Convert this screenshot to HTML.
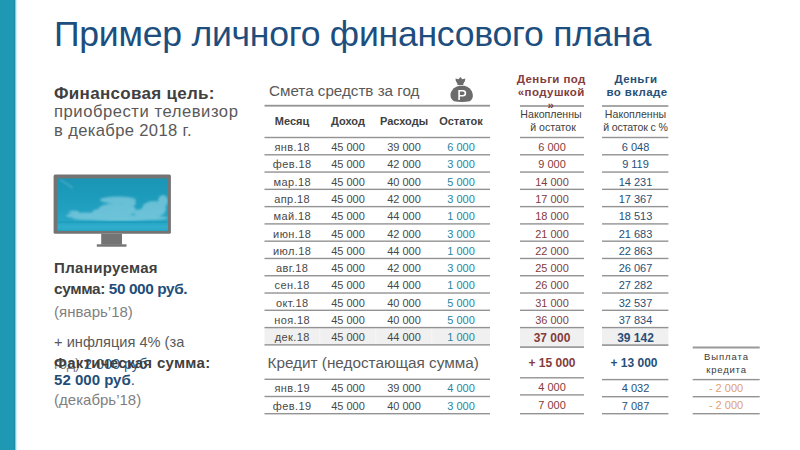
<!DOCTYPE html>
<html><head><meta charset="utf-8"><style>
html,body{margin:0;padding:0;background:#fff;}
body{width:800px;height:450px;position:relative;overflow:hidden;font-family:"Liberation Sans", sans-serif;}
.t{position:absolute;white-space:nowrap;}
.r{position:absolute;}
</style></head><body>
<svg style="position:absolute;left:0;top:0" width="800" height="450"><rect x="264.5" y="104.80" width="225.5" height="1.8" fill="#939393"/><rect x="264.5" y="327.58" width="225.5" height="17.28" fill="#f0f0f0"/><rect x="520" y="328.20" width="64" height="18.9" fill="#f0f0f0"/><rect x="319.5" y="328.28" width="0.8" height="15.88" fill="#f9f9f9"/><rect x="375.5" y="328.28" width="0.8" height="15.88" fill="#f9f9f9"/><rect x="431.5" y="328.28" width="0.8" height="15.88" fill="#f9f9f9"/><rect x="602" y="328.20" width="66.4" height="17" fill="#f0f0f0"/><rect x="264.5" y="136.80" width="225.5" height="1.4" fill="#939393"/><rect x="264.5" y="154.08" width="225.5" height="1.4" fill="#939393"/><rect x="264.5" y="171.36" width="225.5" height="1.4" fill="#939393"/><rect x="264.5" y="188.64" width="225.5" height="1.4" fill="#939393"/><rect x="264.5" y="205.92" width="225.5" height="1.4" fill="#939393"/><rect x="264.5" y="223.20" width="225.5" height="1.4" fill="#939393"/><rect x="264.5" y="240.48" width="225.5" height="1.4" fill="#939393"/><rect x="264.5" y="257.76" width="225.5" height="1.4" fill="#939393"/><rect x="264.5" y="275.04" width="225.5" height="1.4" fill="#939393"/><rect x="264.5" y="292.32" width="225.5" height="1.4" fill="#939393"/><rect x="264.5" y="309.60" width="225.5" height="1.4" fill="#939393"/><rect x="264.5" y="326.88" width="225.5" height="1.4" fill="#939393"/><rect x="264.5" y="344.16" width="225.5" height="1.4" fill="#939393"/><rect x="520" y="136.80" width="64" height="1.4" fill="#939393"/><rect x="602" y="136.80" width="66.4" height="1.4" fill="#939393"/><rect x="520" y="154.08" width="64" height="1.4" fill="#939393"/><rect x="602" y="154.08" width="66.4" height="1.4" fill="#939393"/><rect x="520" y="171.36" width="64" height="1.4" fill="#939393"/><rect x="602" y="171.36" width="66.4" height="1.4" fill="#939393"/><rect x="520" y="188.64" width="64" height="1.4" fill="#939393"/><rect x="602" y="188.64" width="66.4" height="1.4" fill="#939393"/><rect x="520" y="205.92" width="64" height="1.4" fill="#939393"/><rect x="602" y="205.92" width="66.4" height="1.4" fill="#939393"/><rect x="520" y="223.20" width="64" height="1.4" fill="#939393"/><rect x="602" y="223.20" width="66.4" height="1.4" fill="#939393"/><rect x="520" y="240.48" width="64" height="1.4" fill="#939393"/><rect x="602" y="240.48" width="66.4" height="1.4" fill="#939393"/><rect x="520" y="257.76" width="64" height="1.4" fill="#939393"/><rect x="602" y="257.76" width="66.4" height="1.4" fill="#939393"/><rect x="520" y="275.04" width="64" height="1.4" fill="#939393"/><rect x="602" y="275.04" width="66.4" height="1.4" fill="#939393"/><rect x="520" y="292.32" width="64" height="1.4" fill="#939393"/><rect x="602" y="292.32" width="66.4" height="1.4" fill="#939393"/><rect x="520" y="309.60" width="64" height="1.4" fill="#939393"/><rect x="602" y="309.60" width="66.4" height="1.4" fill="#939393"/><rect x="520" y="326.88" width="64" height="1.4" fill="#939393"/><rect x="602" y="326.88" width="66.4" height="1.4" fill="#939393"/><rect x="520" y="346.30" width="64" height="1.6" fill="#939393"/><rect x="602" y="344.30" width="66.4" height="1.6" fill="#939393"/><rect x="520" y="105.20" width="64" height="1.6" fill="#939393"/><rect x="602" y="105.20" width="66.4" height="1.6" fill="#939393"/><rect x="264.5" y="378.60" width="225.5" height="1.4" fill="#939393"/><rect x="264.5" y="395.80" width="225.5" height="1.4" fill="#939393"/><rect x="264.5" y="413.00" width="225.5" height="1.4" fill="#939393"/><rect x="520" y="377.10" width="64" height="1.4" fill="#939393"/><rect x="520" y="394.20" width="64" height="1.4" fill="#939393"/><rect x="520" y="413.00" width="64" height="1.4" fill="#939393"/><rect x="602" y="378.90" width="66.4" height="1.4" fill="#939393"/><rect x="692.7" y="378.90" width="67" height="1.4" fill="#939393"/><rect x="602" y="396.00" width="66.4" height="1.4" fill="#939393"/><rect x="692.7" y="396.00" width="67" height="1.4" fill="#939393"/><rect x="602" y="413.00" width="66.4" height="1.4" fill="#939393"/><rect x="692.7" y="413.00" width="67" height="1.4" fill="#939393"/><rect x="692.7" y="346.50" width="67" height="2" fill="#999"/></svg>
<div class="r" style="left:0px;top:0px;width:15px;height:450px;background:#1F98B4;"></div>
<div class="r" style="left:14px;top:0px;width:1px;height:450px;background:#1d8ba4;"></div>
<div class="r" style="left:15px;top:0px;width:1px;height:450px;background:#86cadb;"></div>
<div class="r" style="left:16px;top:0px;width:1px;height:450px;background:#d2f1f7;"></div>
<div class="r" style="left:17px;top:0px;width:1px;height:450px;background:#f4fcfe;"></div>
<div class="t" style="left:54.00px;top:17.26px;font-size:35.6px;line-height:35.6px;color:#1d4e7e;letter-spacing:-0.25px;">Пример личного финансового плана</div>
<div class="t" style="left:54.00px;top:84.81px;font-size:17px;line-height:17px;color:#404040;font-weight:bold;letter-spacing:0.3px;">Финансовая цель:</div>
<div class="t" style="left:54.00px;top:104.45px;font-size:16.6px;line-height:16.6px;color:#595959;letter-spacing:0.55px;">приобрести телевизор</div>
<div class="t" style="left:54.00px;top:123.35px;font-size:16.6px;line-height:16.6px;color:#595959;letter-spacing:0.35px;">в декабре 2018 г.</div>
<svg class="r" style="left:50px;top:170px" width="125" height="80" viewBox="0 0 125 80">
<defs>
<linearGradient id="sky" x1="0" y1="0" x2="0" y2="1">
<stop offset="0" stop-color="#1a95b5"/><stop offset="0.45" stop-color="#1e9dbd"/><stop offset="0.85" stop-color="#28a6c5"/><stop offset="1" stop-color="#28a6c5"/>
</linearGradient>
<filter id="bl" x="-20%" y="-50%" width="140%" height="200%"><feGaussianBlur stdDeviation="1.3"/></filter>
<clipPath id="scr"><rect x="7.6" y="8.4" width="110.3" height="52.4"/></clipPath>
</defs>
<rect x="3.6" y="4.6" width="117.3" height="59.1" rx="1.5" fill="#747474"/>
<rect x="7.6" y="8.4" width="110.3" height="52.4" fill="url(#sky)"/>
<g clip-path="url(#scr)">
<g fill="#b4e2ee" opacity="0.5" filter="url(#bl)">
<ellipse cx="70" cy="48" rx="48" ry="3"/>
<ellipse cx="36" cy="45.5" rx="20" ry="3"/>
<ellipse cx="24" cy="42" rx="5" ry="1.5"/>
<ellipse cx="50" cy="42" rx="8" ry="3"/>
<ellipse cx="67" cy="40" rx="19" ry="7"/>
<ellipse cx="68" cy="30" rx="18" ry="3.5"/>
<ellipse cx="80" cy="33" rx="6" ry="4"/>
<ellipse cx="92" cy="43" rx="8" ry="4"/>
<ellipse cx="104" cy="39" rx="12" ry="8"/>
<ellipse cx="113" cy="31" rx="5" ry="6"/>
</g>
<path d="M10 9.5 L23 18" stroke="#6cc0d6" stroke-width="2" opacity="0.45" filter="url(#bl)"/>
<rect x="7" y="51.5" width="112" height="9.5" fill="#27a7c6"/>
<rect x="7" y="51.5" width="112" height="1.2" fill="#1e9aba"/>
<rect x="7" y="55" width="112" height="4" fill="#3bb4d0" opacity="0.5" filter="url(#bl)"/>
</g>
<rect x="51.2" y="63.7" width="20.8" height="11" fill="#747474"/>
<rect x="46.8" y="74.3" width="29.7" height="2.4" fill="#747474"/>
</svg>
<div class="t" style="left:54.10px;top:259.50px;font-size:15px;line-height:15px;color:#404040;font-weight:bold;letter-spacing:0.33px;">Планируемая</div>
<div class="t" style="left:54.10px;top:280.56px;font-size:15.4px;line-height:15.4px;color:#404040;font-weight:bold;letter-spacing:-0.4px;">сумма: <span style="color:#1F4E79">50 000 руб.</span></div>
<div class="t" style="left:54.10px;top:303.80px;font-size:15px;line-height:15px;color:#7F7F7F;">(январь’18)</div>
<div class="t" style="left:54.10px;top:334.84px;font-size:14.6px;line-height:14.6px;color:#595959;">+ инфляция 4% (за</div>
<div class="t" style="left:54.10px;top:357.11px;font-size:14.4px;line-height:14.4px;color:#7F7F7F;">год) <span style="color:#2c5c8c">2 000 руб</span></div>
<div class="t" style="left:54.10px;top:355.10px;font-size:15px;line-height:15px;color:#404040;font-weight:bold;letter-spacing:0.3px;">Фактическая сумма:</div>
<div class="t" style="left:54.10px;top:372.30px;font-size:15px;line-height:15px;color:#1F4E79;font-weight:bold;">52 000 руб<span style="font-weight:normal">.</span></div>
<div class="t" style="left:54.10px;top:391.50px;font-size:15px;line-height:15px;color:#7F7F7F;">(декабрь’18)</div>
<div class="t" style="left:269.00px;top:83.03px;font-size:15.2px;line-height:15.2px;color:#595959;">Смета средств за год</div>
<svg class="r" style="left:449px;top:76px" width="26" height="27" viewBox="0 0 26 27">
<path fill="#6b6b6b" d="M6.5 2.6 L9.5 3.3 L11.4 0.9 L13.3 3.3 L16.3 2.6 Q16.4 5.2 14.9 6.8 Q14.1 7.6 14.3 8.9 L8.5 8.9 Q8.7 7.6 7.9 6.8 Q6.4 5.2 6.5 2.6 Z"/>
<path fill="#6b6b6b" d="M10.3 9.8 L15.3 9.8 Q21.5 11 23.6 17.5 Q24.8 22.5 20.8 25.2 Q13 26.6 5 25.2 Q0.8 22.5 1.6 17.5 Q3.8 11 10.3 9.8 Z"/>
<path fill="none" stroke="#fff" stroke-width="1.6" d="M10.1 24 L10.1 14.8 L13.8 14.8 Q16.4 14.8 16.4 17.3 Q16.4 19.8 13.8 19.8 L10.1 19.8"/>
</svg>
<div class="t" style="left:262.00px;width:60px;text-align:center;top:115.99px;font-size:11px;line-height:11px;color:#404040;font-weight:bold;">Месяц</div>
<div class="t" style="left:318.00px;width:60px;text-align:center;top:115.99px;font-size:11px;line-height:11px;color:#404040;font-weight:bold;">Доход</div>
<div class="t" style="left:374.00px;width:60px;text-align:center;top:115.99px;font-size:11px;line-height:11px;color:#404040;font-weight:bold;">Расходы</div>
<div class="t" style="left:431.00px;width:60px;text-align:center;top:115.99px;font-size:11px;line-height:11px;color:#404040;font-weight:bold;">Остаток</div>
<div class="t" style="left:264.20px;width:56px;text-align:center;top:142.19px;font-size:11px;line-height:11px;color:#484848;letter-spacing:0.4px;">янв.18</div>
<div class="t" style="left:320.00px;width:56px;text-align:center;top:142.19px;font-size:11px;line-height:11px;color:#484848;">45 000</div>
<div class="t" style="left:376.00px;width:56px;text-align:center;top:142.19px;font-size:11px;line-height:11px;color:#484848;">39 000</div>
<div class="t" style="left:433.00px;width:56px;text-align:center;top:142.19px;font-size:11px;line-height:11px;color:#28869f;">6 000</div>
<div class="t" style="left:520.00px;width:64px;text-align:center;top:142.19px;font-size:11px;line-height:11px;color:#843c3c;">6 000</div>
<div class="t" style="left:602.50px;width:66px;text-align:center;top:142.19px;font-size:11px;line-height:11px;color:#284f78;">6 048</div>
<div class="t" style="left:264.20px;width:56px;text-align:center;top:159.47px;font-size:11px;line-height:11px;color:#484848;letter-spacing:0.4px;">фев.18</div>
<div class="t" style="left:320.00px;width:56px;text-align:center;top:159.47px;font-size:11px;line-height:11px;color:#484848;">45 000</div>
<div class="t" style="left:376.00px;width:56px;text-align:center;top:159.47px;font-size:11px;line-height:11px;color:#484848;">42 000</div>
<div class="t" style="left:433.00px;width:56px;text-align:center;top:159.47px;font-size:11px;line-height:11px;color:#28869f;">3 000</div>
<div class="t" style="left:520.00px;width:64px;text-align:center;top:159.47px;font-size:11px;line-height:11px;color:#843c3c;">9 000</div>
<div class="t" style="left:602.50px;width:66px;text-align:center;top:159.47px;font-size:11px;line-height:11px;color:#284f78;">9 119</div>
<div class="t" style="left:264.20px;width:56px;text-align:center;top:176.75px;font-size:11px;line-height:11px;color:#484848;letter-spacing:0.4px;">мар.18</div>
<div class="t" style="left:320.00px;width:56px;text-align:center;top:176.75px;font-size:11px;line-height:11px;color:#484848;">45 000</div>
<div class="t" style="left:376.00px;width:56px;text-align:center;top:176.75px;font-size:11px;line-height:11px;color:#484848;">40 000</div>
<div class="t" style="left:433.00px;width:56px;text-align:center;top:176.75px;font-size:11px;line-height:11px;color:#28869f;">5 000</div>
<div class="t" style="left:520.00px;width:64px;text-align:center;top:176.75px;font-size:11px;line-height:11px;color:#843c3c;">14 000</div>
<div class="t" style="left:602.50px;width:66px;text-align:center;top:176.75px;font-size:11px;line-height:11px;color:#284f78;">14 231</div>
<div class="t" style="left:264.20px;width:56px;text-align:center;top:194.03px;font-size:11px;line-height:11px;color:#484848;letter-spacing:0.4px;">апр.18</div>
<div class="t" style="left:320.00px;width:56px;text-align:center;top:194.03px;font-size:11px;line-height:11px;color:#484848;">45 000</div>
<div class="t" style="left:376.00px;width:56px;text-align:center;top:194.03px;font-size:11px;line-height:11px;color:#484848;">42 000</div>
<div class="t" style="left:433.00px;width:56px;text-align:center;top:194.03px;font-size:11px;line-height:11px;color:#28869f;">3 000</div>
<div class="t" style="left:520.00px;width:64px;text-align:center;top:194.03px;font-size:11px;line-height:11px;color:#843c3c;">17 000</div>
<div class="t" style="left:602.50px;width:66px;text-align:center;top:194.03px;font-size:11px;line-height:11px;color:#284f78;">17 367</div>
<div class="t" style="left:264.20px;width:56px;text-align:center;top:211.31px;font-size:11px;line-height:11px;color:#484848;letter-spacing:0.4px;">май.18</div>
<div class="t" style="left:320.00px;width:56px;text-align:center;top:211.31px;font-size:11px;line-height:11px;color:#484848;">45 000</div>
<div class="t" style="left:376.00px;width:56px;text-align:center;top:211.31px;font-size:11px;line-height:11px;color:#484848;">44 000</div>
<div class="t" style="left:433.00px;width:56px;text-align:center;top:211.31px;font-size:11px;line-height:11px;color:#28869f;">1 000</div>
<div class="t" style="left:520.00px;width:64px;text-align:center;top:211.31px;font-size:11px;line-height:11px;color:#843c3c;">18 000</div>
<div class="t" style="left:602.50px;width:66px;text-align:center;top:211.31px;font-size:11px;line-height:11px;color:#284f78;">18 513</div>
<div class="t" style="left:264.20px;width:56px;text-align:center;top:228.59px;font-size:11px;line-height:11px;color:#484848;letter-spacing:0.4px;">июн.18</div>
<div class="t" style="left:320.00px;width:56px;text-align:center;top:228.59px;font-size:11px;line-height:11px;color:#484848;">45 000</div>
<div class="t" style="left:376.00px;width:56px;text-align:center;top:228.59px;font-size:11px;line-height:11px;color:#484848;">42 000</div>
<div class="t" style="left:433.00px;width:56px;text-align:center;top:228.59px;font-size:11px;line-height:11px;color:#28869f;">3 000</div>
<div class="t" style="left:520.00px;width:64px;text-align:center;top:228.59px;font-size:11px;line-height:11px;color:#843c3c;">21 000</div>
<div class="t" style="left:602.50px;width:66px;text-align:center;top:228.59px;font-size:11px;line-height:11px;color:#284f78;">21 683</div>
<div class="t" style="left:264.20px;width:56px;text-align:center;top:245.87px;font-size:11px;line-height:11px;color:#484848;letter-spacing:0.4px;">июл.18</div>
<div class="t" style="left:320.00px;width:56px;text-align:center;top:245.87px;font-size:11px;line-height:11px;color:#484848;">45 000</div>
<div class="t" style="left:376.00px;width:56px;text-align:center;top:245.87px;font-size:11px;line-height:11px;color:#484848;">44 000</div>
<div class="t" style="left:433.00px;width:56px;text-align:center;top:245.87px;font-size:11px;line-height:11px;color:#28869f;">1 000</div>
<div class="t" style="left:520.00px;width:64px;text-align:center;top:245.87px;font-size:11px;line-height:11px;color:#843c3c;">22 000</div>
<div class="t" style="left:602.50px;width:66px;text-align:center;top:245.87px;font-size:11px;line-height:11px;color:#284f78;">22 863</div>
<div class="t" style="left:264.20px;width:56px;text-align:center;top:263.15px;font-size:11px;line-height:11px;color:#484848;letter-spacing:0.4px;">авг.18</div>
<div class="t" style="left:320.00px;width:56px;text-align:center;top:263.15px;font-size:11px;line-height:11px;color:#484848;">45 000</div>
<div class="t" style="left:376.00px;width:56px;text-align:center;top:263.15px;font-size:11px;line-height:11px;color:#484848;">42 000</div>
<div class="t" style="left:433.00px;width:56px;text-align:center;top:263.15px;font-size:11px;line-height:11px;color:#28869f;">3 000</div>
<div class="t" style="left:520.00px;width:64px;text-align:center;top:263.15px;font-size:11px;line-height:11px;color:#843c3c;">25 000</div>
<div class="t" style="left:602.50px;width:66px;text-align:center;top:263.15px;font-size:11px;line-height:11px;color:#284f78;">26 067</div>
<div class="t" style="left:264.20px;width:56px;text-align:center;top:280.43px;font-size:11px;line-height:11px;color:#484848;letter-spacing:0.4px;">сен.18</div>
<div class="t" style="left:320.00px;width:56px;text-align:center;top:280.43px;font-size:11px;line-height:11px;color:#484848;">45 000</div>
<div class="t" style="left:376.00px;width:56px;text-align:center;top:280.43px;font-size:11px;line-height:11px;color:#484848;">44 000</div>
<div class="t" style="left:433.00px;width:56px;text-align:center;top:280.43px;font-size:11px;line-height:11px;color:#28869f;">1 000</div>
<div class="t" style="left:520.00px;width:64px;text-align:center;top:280.43px;font-size:11px;line-height:11px;color:#843c3c;">26 000</div>
<div class="t" style="left:602.50px;width:66px;text-align:center;top:280.43px;font-size:11px;line-height:11px;color:#284f78;">27 282</div>
<div class="t" style="left:264.20px;width:56px;text-align:center;top:297.71px;font-size:11px;line-height:11px;color:#484848;letter-spacing:0.4px;">окт.18</div>
<div class="t" style="left:320.00px;width:56px;text-align:center;top:297.71px;font-size:11px;line-height:11px;color:#484848;">45 000</div>
<div class="t" style="left:376.00px;width:56px;text-align:center;top:297.71px;font-size:11px;line-height:11px;color:#484848;">40 000</div>
<div class="t" style="left:433.00px;width:56px;text-align:center;top:297.71px;font-size:11px;line-height:11px;color:#28869f;">5 000</div>
<div class="t" style="left:520.00px;width:64px;text-align:center;top:297.71px;font-size:11px;line-height:11px;color:#843c3c;">31 000</div>
<div class="t" style="left:602.50px;width:66px;text-align:center;top:297.71px;font-size:11px;line-height:11px;color:#284f78;">32 537</div>
<div class="t" style="left:264.20px;width:56px;text-align:center;top:314.99px;font-size:11px;line-height:11px;color:#484848;letter-spacing:0.4px;">ноя.18</div>
<div class="t" style="left:320.00px;width:56px;text-align:center;top:314.99px;font-size:11px;line-height:11px;color:#484848;">45 000</div>
<div class="t" style="left:376.00px;width:56px;text-align:center;top:314.99px;font-size:11px;line-height:11px;color:#484848;">40 000</div>
<div class="t" style="left:433.00px;width:56px;text-align:center;top:314.99px;font-size:11px;line-height:11px;color:#28869f;">5 000</div>
<div class="t" style="left:520.00px;width:64px;text-align:center;top:314.99px;font-size:11px;line-height:11px;color:#843c3c;">36 000</div>
<div class="t" style="left:602.50px;width:66px;text-align:center;top:314.99px;font-size:11px;line-height:11px;color:#284f78;">37 834</div>
<div class="t" style="left:264.20px;width:56px;text-align:center;top:332.27px;font-size:11px;line-height:11px;color:#484848;letter-spacing:0.4px;">дек.18</div>
<div class="t" style="left:320.00px;width:56px;text-align:center;top:332.27px;font-size:11px;line-height:11px;color:#484848;">45 000</div>
<div class="t" style="left:376.00px;width:56px;text-align:center;top:332.27px;font-size:11px;line-height:11px;color:#484848;">44 000</div>
<div class="t" style="left:433.00px;width:56px;text-align:center;top:332.27px;font-size:11px;line-height:11px;color:#28869f;">1 000</div>
<div class="t" style="left:520.00px;width:64px;text-align:center;top:331.72px;font-size:12px;line-height:12px;color:#843c3c;font-weight:bold;">37 000</div>
<div class="t" style="left:602.50px;width:66px;text-align:center;top:331.72px;font-size:12px;line-height:12px;color:#284f78;font-weight:bold;">39 142</div>
<div class="t" style="left:511.30px;width:80px;text-align:center;top:74.27px;font-size:11.5px;line-height:11.5px;color:#843c3c;font-weight:bold;letter-spacing:0.4px;">Деньги под</div>
<div class="t" style="left:511.30px;width:80px;text-align:center;top:86.87px;font-size:11.5px;line-height:11.5px;color:#843c3c;font-weight:bold;letter-spacing:0.4px;">«подушкой</div>
<div class="t" style="left:540.80px;width:20px;text-align:center;top:99.67px;font-size:11.5px;line-height:11.5px;color:#843c3c;font-weight:bold;">»</div>
<div class="t" style="left:596.00px;width:80px;text-align:center;top:74.27px;font-size:11.5px;line-height:11.5px;color:#284f78;font-weight:bold;letter-spacing:0.4px;">Деньги</div>
<div class="t" style="left:597.00px;width:80px;text-align:center;top:86.57px;font-size:11.5px;line-height:11.5px;color:#284f78;font-weight:bold;letter-spacing:0.4px;">во вкладе</div>
<div class="t" style="left:516.00px;width:70px;text-align:center;top:108.63px;font-size:10.6px;line-height:10.6px;color:#404040;">Накопленны</div>
<div class="t" style="left:518.00px;width:70px;text-align:center;top:121.53px;font-size:10.6px;line-height:10.6px;color:#404040;">й остаток</div>
<div class="t" style="left:600.50px;width:70px;text-align:center;top:108.63px;font-size:10.6px;line-height:10.6px;color:#404040;">Накопленны</div>
<div class="t" style="left:600.50px;width:70px;text-align:center;top:121.53px;font-size:10.6px;line-height:10.6px;color:#404040;letter-spacing:-0.15px;">й остаток с %</div>
<div class="t" style="left:267.50px;top:355.45px;font-size:15.3px;line-height:15.3px;color:#595959;">Кредит (недостающая сумма)</div>
<div class="t" style="left:512.00px;width:80px;text-align:center;top:356.54px;font-size:12px;line-height:12px;color:#843c3c;font-weight:bold;">+ 15 000</div>
<div class="t" style="left:594.00px;width:80px;text-align:center;top:356.54px;font-size:12px;line-height:12px;color:#284f78;font-weight:bold;">+ 13 000</div>
<div class="t" style="left:696.50px;width:60px;text-align:center;top:351.86px;font-size:9.5px;line-height:9.5px;color:#3a3a3a;letter-spacing:0.9px;">Выплата</div>
<div class="t" style="left:696.50px;width:60px;text-align:center;top:365.36px;font-size:9.5px;line-height:9.5px;color:#3a3a3a;letter-spacing:0.8px;">кредита</div>
<div class="t" style="left:264.20px;width:56px;text-align:center;top:382.99px;font-size:11px;line-height:11px;color:#484848;letter-spacing:0.4px;">янв.19</div>
<div class="t" style="left:320.00px;width:56px;text-align:center;top:382.99px;font-size:11px;line-height:11px;color:#484848;">45 000</div>
<div class="t" style="left:376.00px;width:56px;text-align:center;top:382.99px;font-size:11px;line-height:11px;color:#484848;">39 000</div>
<div class="t" style="left:433.00px;width:56px;text-align:center;top:382.99px;font-size:11px;line-height:11px;color:#28869f;">4 000</div>
<div class="t" style="left:520.00px;width:64px;text-align:center;top:381.79px;font-size:11px;line-height:11px;color:#843c3c;">4 000</div>
<div class="t" style="left:602.50px;width:66px;text-align:center;top:382.89px;font-size:11px;line-height:11px;color:#284f78;">4 032</div>
<div class="t" style="left:693.00px;width:66px;text-align:center;top:382.69px;font-size:11px;line-height:11px;color:#e0a070;">- 2 000</div>
<div class="t" style="left:264.20px;width:56px;text-align:center;top:400.69px;font-size:11px;line-height:11px;color:#484848;letter-spacing:0.4px;">фев.19</div>
<div class="t" style="left:320.00px;width:56px;text-align:center;top:400.69px;font-size:11px;line-height:11px;color:#484848;">45 000</div>
<div class="t" style="left:376.00px;width:56px;text-align:center;top:400.69px;font-size:11px;line-height:11px;color:#484848;">40 000</div>
<div class="t" style="left:433.00px;width:56px;text-align:center;top:400.69px;font-size:11px;line-height:11px;color:#28869f;">3 000</div>
<div class="t" style="left:520.00px;width:64px;text-align:center;top:399.59px;font-size:11px;line-height:11px;color:#843c3c;">7 000</div>
<div class="t" style="left:602.50px;width:66px;text-align:center;top:400.69px;font-size:11px;line-height:11px;color:#284f78;">7 087</div>
<div class="t" style="left:693.00px;width:66px;text-align:center;top:400.39px;font-size:11px;line-height:11px;color:#e0a070;">- 2 000</div>
</body></html>
